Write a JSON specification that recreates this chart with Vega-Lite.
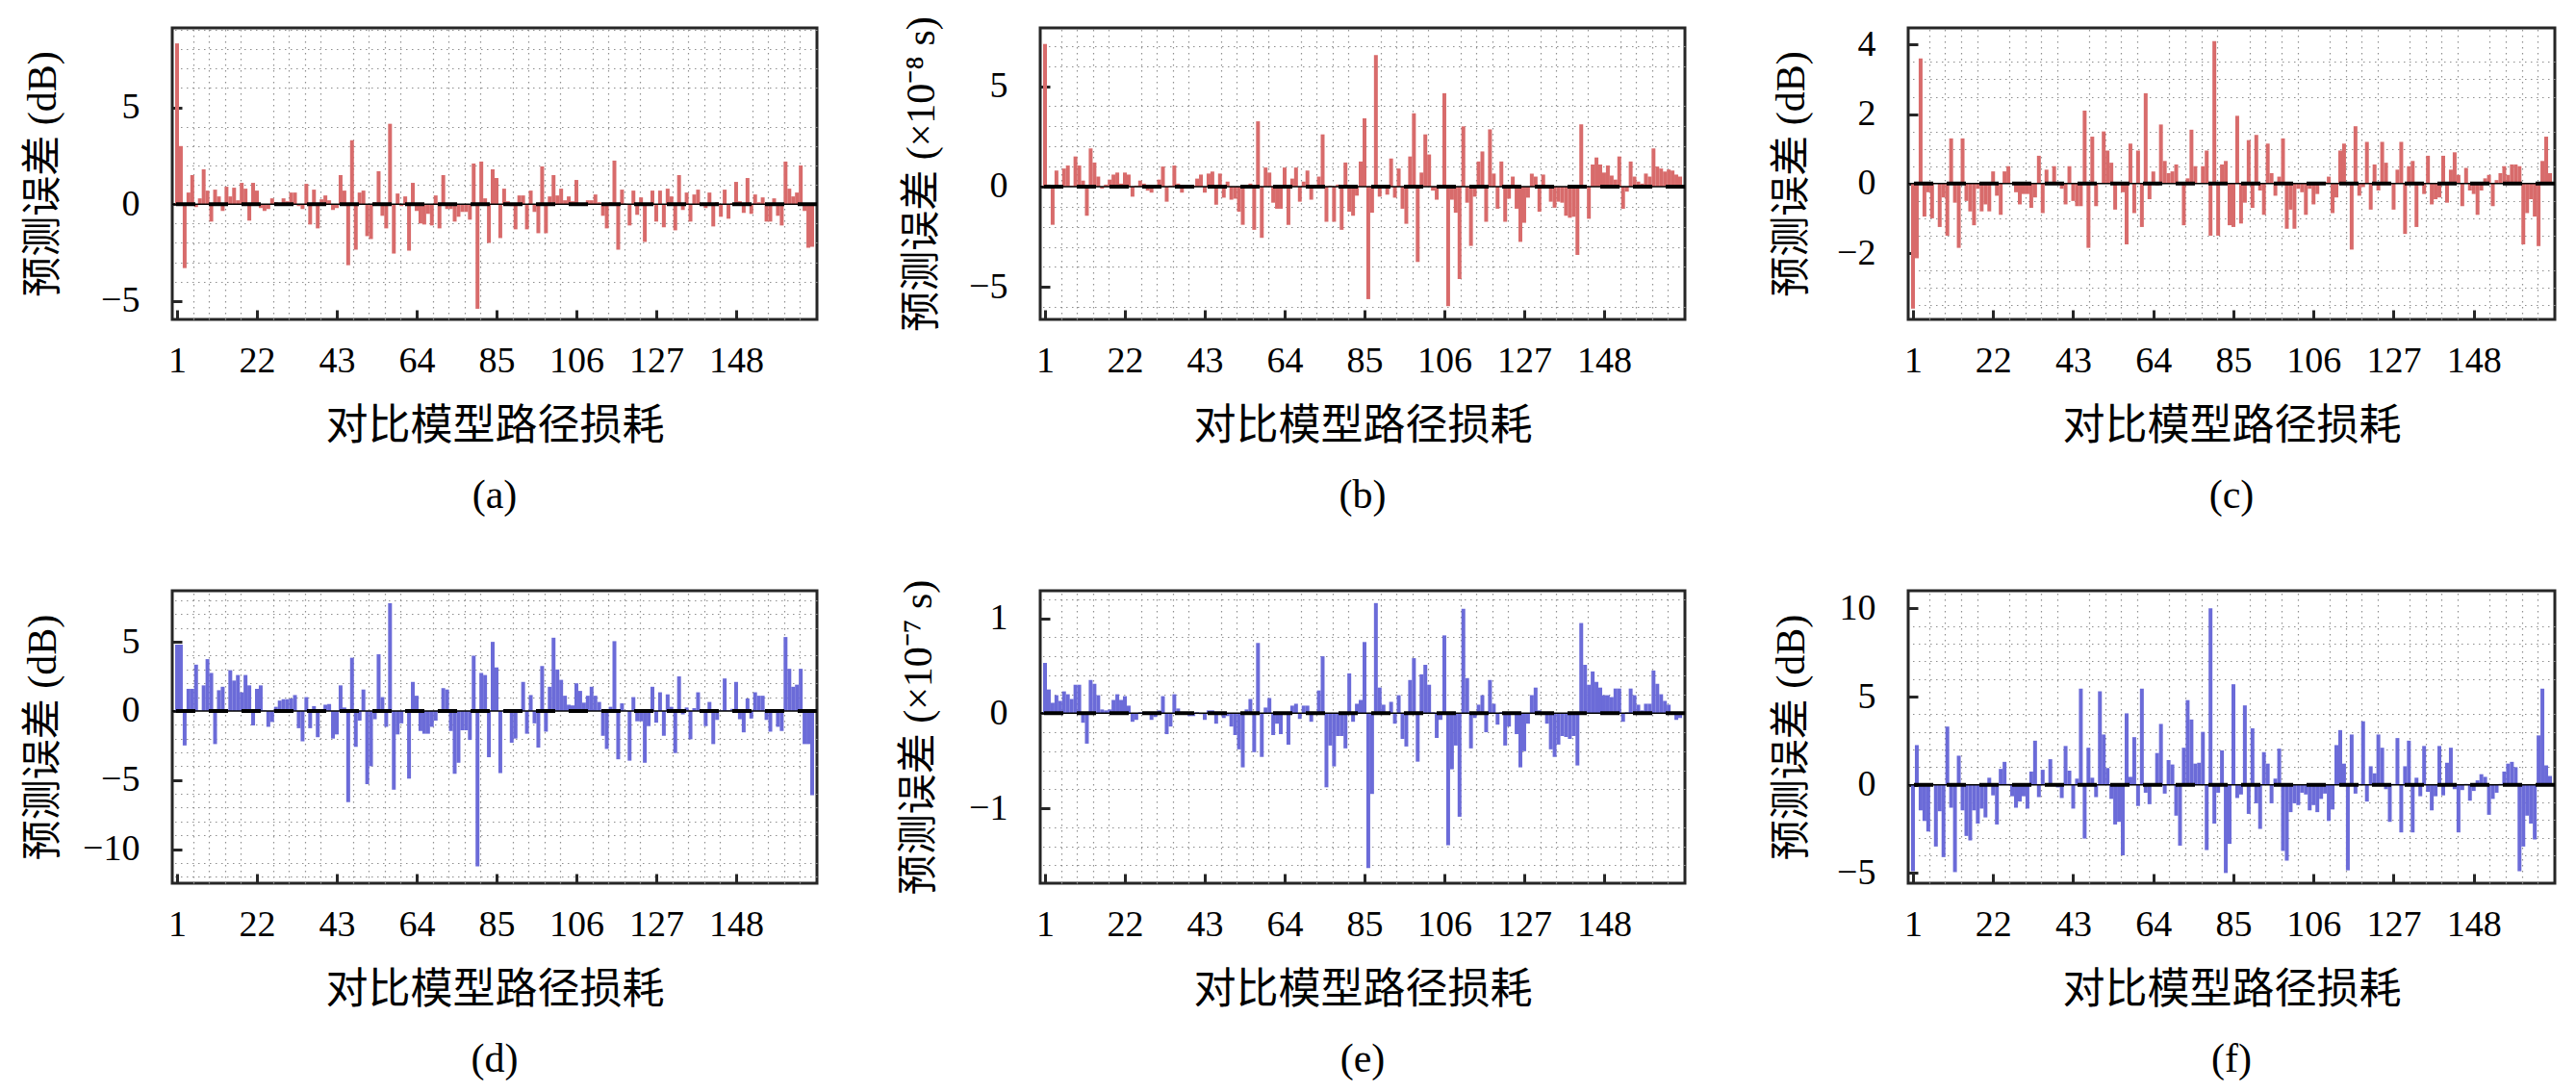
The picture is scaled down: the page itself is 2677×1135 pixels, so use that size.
{
  "$schema": "https://vega.github.io/schema/vega-lite/v6.json",
  "background": "white",
  "padding": {"left": 21, "top": 15, "right": 5, "bottom": 5},
  "config": {
    "font": "Liberation Serif, Noto Sans CJK SC",
    "view": {"stroke": "#262626", "strokeWidth": 3},
    "axis": {
      "domain": false, "grid": true,
      "labelFont": "Liberation Serif, Noto Sans CJK SC", "labelFontSize": 38, "labelColor": "black",
      "titleFont": "Liberation Serif, Noto Sans CJK SC", "titleFontSize": 42, "titleFontWeight": "normal", "titleColor": "black",
      "tickColor": "#262626", "tickWidth": 3, "tickSize": -10,
      "labelOverlap": false, "labelFlush": false, "labelBound": false,
      "gridColor": "#d6d6d6", "gridWidth": 2.5
    },
    "axisX": {"labelPadding": 34, "titlePadding": 27, "titleFontSize": 44},
    "axisY": {"labelPadding": 44, "titleBaseline": "middle", "format": "d"},
    "title": {"font": "Liberation Serif, Noto Sans CJK SC", "fontSize": 42, "fontWeight": "normal", "color": "black", "orient": "bottom", "anchor": "middle", "offset": 30}
  },
  "datasets": {
    "a": [{"i":1,"v":8.3},{"i":2,"v":3.0},{"i":3,"v":-3.3},{"i":4,"v":0.6},{"i":5,"v":1.5},{"i":6,"v":-0.15},{"i":7,"v":0.3},{"i":8,"v":1.8},{"i":9,"v":0.7},{"i":10,"v":-0.9},{"i":11,"v":0.75},{"i":12,"v":0.4},{"i":13,"v":-0.35},{"i":14,"v":0.9},{"i":15,"v":0.4},{"i":16,"v":0.85},{"i":17,"v":0.2},{"i":18,"v":1.1},{"i":19,"v":0.8},{"i":20,"v":-0.85},{"i":21,"v":1.1},{"i":22,"v":0.7},{"i":23,"v":-0.2},{"i":24,"v":-0.35},{"i":25,"v":-0.25},{"i":26,"v":0.3},{"i":27,"v":0.1},{"i":28,"v":0.05},{"i":29,"v":0.3},{"i":30,"v":0.15},{"i":31,"v":0.6},{"i":32,"v":0.6},{"i":33,"v":-0.1},{"i":34,"v":-0.25},{"i":35,"v":1.05},{"i":36,"v":-1.05},{"i":37,"v":0.75},{"i":38,"v":-1.25},{"i":39,"v":0.25},{"i":40,"v":0.45},{"i":41,"v":0.2},{"i":42,"v":-0.3},{"i":43,"v":-0.2},{"i":44,"v":1.5},{"i":45,"v":0.7},{"i":46,"v":-3.15},{"i":47,"v":3.3},{"i":48,"v":-2.35},{"i":49,"v":0.6},{"i":50,"v":0.7},{"i":51,"v":-1.65},{"i":52,"v":-1.8},{"i":53,"v":0.1},{"i":54,"v":1.7},{"i":55,"v":-0.6},{"i":56,"v":-1.25},{"i":57,"v":4.15},{"i":58,"v":-2.55},{"i":59,"v":0.55},{"i":60,"v":-0.1},{"i":61,"v":0.4},{"i":62,"v":-2.4},{"i":63,"v":1.1},{"i":64,"v":-0.35},{"i":65,"v":-1.0},{"i":66,"v":-1.05},{"i":67,"v":-0.5},{"i":68,"v":-1.1},{"i":69,"v":0.45},{"i":70,"v":-1.25},{"i":71,"v":1.5},{"i":72,"v":-0.25},{"i":73,"v":-0.25},{"i":74,"v":-0.9},{"i":75,"v":-0.65},{"i":76,"v":-0.4},{"i":77,"v":-0.4},{"i":78,"v":-0.8},{"i":79,"v":2.1},{"i":80,"v":-5.4},{"i":81,"v":2.2},{"i":82,"v":0.3},{"i":83,"v":-2.0},{"i":84,"v":1.8},{"i":85,"v":1.35},{"i":86,"v":-1.75},{"i":87,"v":0.8},{"i":88,"v":0.15},{"i":89,"v":-0.1},{"i":90,"v":-1.3},{"i":91,"v":0.45},{"i":92,"v":0.45},{"i":93,"v":-1.3},{"i":94,"v":0.7},{"i":95,"v":-0.4},{"i":96,"v":-1.5},{"i":97,"v":1.95},{"i":98,"v":-1.5},{"i":99,"v":0.4},{"i":100,"v":1.5},{"i":101,"v":0.45},{"i":102,"v":0.8},{"i":103,"v":0.2},{"i":104,"v":0.4},{"i":105,"v":0.15},{"i":106,"v":1.25},{"i":107,"v":0.02},{"i":108,"v":0.02},{"i":109,"v":0.2},{"i":110,"v":0.2},{"i":111,"v":0.5},{"i":112,"v":0.1},{"i":113,"v":-0.6},{"i":114,"v":-1.25},{"i":115,"v":0.1},{"i":116,"v":2.25},{"i":117,"v":-2.35},{"i":118,"v":0.75},{"i":119,"v":0.02},{"i":120,"v":-1.1},{"i":121,"v":0.7},{"i":122,"v":-0.55},{"i":123,"v":0.35},{"i":124,"v":-1.95},{"i":125,"v":0.02},{"i":126,"v":0.7},{"i":127,"v":-0.9},{"i":128,"v":0.7},{"i":129,"v":-1.2},{"i":130,"v":0.8},{"i":131,"v":0.4},{"i":132,"v":-1.35},{"i":133,"v":1.5},{"i":134,"v":-0.3},{"i":135,"v":0.6},{"i":136,"v":-0.9},{"i":137,"v":0.5},{"i":138,"v":0.75},{"i":139,"v":-0.05},{"i":140,"v":-0.2},{"i":141,"v":0.6},{"i":142,"v":-1.15},{"i":143,"v":0.1},{"i":144,"v":-0.65},{"i":145,"v":0.75},{"i":146,"v":-0.75},{"i":147,"v":0.05},{"i":148,"v":1.15},{"i":149,"v":0.15},{"i":150,"v":-0.45},{"i":151,"v":1.35},{"i":152,"v":-0.5},{"i":153,"v":0.5},{"i":154,"v":0.1},{"i":155,"v":0.35},{"i":156,"v":-0.9},{"i":157,"v":-0.9},{"i":158,"v":0.3},{"i":159,"v":-0.6},{"i":160,"v":-1.1},{"i":161,"v":2.2},{"i":162,"v":0.8},{"i":163,"v":0.4},{"i":164,"v":0.6},{"i":165,"v":2.0},{"i":166,"v":-0.35},{"i":167,"v":-2.25},{"i":168,"v":-2.2}],
    "b": [{"i":1,"v":7.1},{"i":2,"v":0.1},{"i":3,"v":-1.9},{"i":4,"v":0.8},{"i":5,"v":0.05},{"i":6,"v":0.9},{"i":7,"v":1.05},{"i":8,"v":0.05},{"i":9,"v":1.5},{"i":10,"v":1.05},{"i":11,"v":0.3},{"i":12,"v":-1.45},{"i":13,"v":1.9},{"i":14,"v":1.2},{"i":15,"v":0.5},{"i":16,"v":-0.1},{"i":17,"v":0.1},{"i":18,"v":0.35},{"i":19,"v":0.6},{"i":20,"v":0.7},{"i":21,"v":0.15},{"i":22,"v":0.7},{"i":23,"v":0.6},{"i":24,"v":-0.5},{"i":25,"v":0.05},{"i":26,"v":0.3},{"i":27,"v":0.15},{"i":28,"v":-0.2},{"i":29,"v":-0.3},{"i":30,"v":0.05},{"i":31,"v":0.35},{"i":32,"v":1.0},{"i":33,"v":-0.75},{"i":34,"v":0.05},{"i":35,"v":1.05},{"i":36,"v":0.15},{"i":37,"v":-0.3},{"i":38,"v":0.05},{"i":39,"v":-0.05},{"i":40,"v":0.05},{"i":41,"v":0.4},{"i":42,"v":0.6},{"i":43,"v":-0.3},{"i":44,"v":0.65},{"i":45,"v":0.75},{"i":46,"v":-0.9},{"i":47,"v":0.65},{"i":48,"v":-0.55},{"i":49,"v":0.25},{"i":50,"v":-0.65},{"i":51,"v":-0.6},{"i":52,"v":-1.25},{"i":53,"v":-1.9},{"i":54,"v":0.05},{"i":55,"v":0.15},{"i":56,"v":-2.15},{"i":57,"v":3.25},{"i":58,"v":-2.55},{"i":59,"v":0.95},{"i":60,"v":0.7},{"i":61,"v":-0.8},{"i":62,"v":-1.1},{"i":63,"v":-1.1},{"i":64,"v":0.95},{"i":65,"v":-1.9},{"i":66,"v":0.4},{"i":67,"v":0.95},{"i":68,"v":-0.75},{"i":69,"v":0.25},{"i":70,"v":0.8},{"i":71,"v":-0.65},{"i":72,"v":0.05},{"i":73,"v":0.5},{"i":74,"v":2.6},{"i":75,"v":-1.75},{"i":76,"v":0.05},{"i":77,"v":-1.75},{"i":78,"v":0.1},{"i":79,"v":-2.15},{"i":80,"v":1.2},{"i":81,"v":-1.25},{"i":82,"v":-1.45},{"i":83,"v":-0.45},{"i":84,"v":1.25},{"i":85,"v":3.4},{"i":86,"v":-5.6},{"i":87,"v":-1.3},{"i":88,"v":6.55},{"i":89,"v":-0.5},{"i":90,"v":0.05},{"i":91,"v":-0.4},{"i":92,"v":1.4},{"i":93,"v":-0.55},{"i":94,"v":0.9},{"i":95,"v":-1.1},{"i":96,"v":-1.85},{"i":97,"v":1.5},{"i":98,"v":3.65},{"i":99,"v":-3.75},{"i":100,"v":0.7},{"i":101,"v":2.6},{"i":102,"v":1.6},{"i":103,"v":-0.2},{"i":104,"v":-0.65},{"i":105,"v":0.05},{"i":106,"v":4.65},{"i":107,"v":-5.95},{"i":108,"v":-0.65},{"i":109,"v":-1.3},{"i":110,"v":-4.6},{"i":111,"v":3.0},{"i":112,"v":-0.8},{"i":113,"v":-2.95},{"i":114,"v":-0.5},{"i":115,"v":1.25},{"i":116,"v":1.75},{"i":117,"v":-1.75},{"i":118,"v":2.85},{"i":119,"v":0.65},{"i":120,"v":-1.1},{"i":121,"v":1.25},{"i":122,"v":-1.75},{"i":123,"v":-0.6},{"i":124,"v":0.5},{"i":125,"v":-1.1},{"i":126,"v":-2.75},{"i":127,"v":-1.8},{"i":128,"v":-0.55},{"i":129,"v":0.65},{"i":130,"v":0.5},{"i":131,"v":-1.25},{"i":132,"v":0.6},{"i":133,"v":0.05},{"i":134,"v":-0.75},{"i":135,"v":-1.05},{"i":136,"v":-0.75},{"i":137,"v":-0.8},{"i":138,"v":-1.45},{"i":139,"v":-1.55},{"i":140,"v":-1.5},{"i":141,"v":-3.4},{"i":142,"v":3.1},{"i":143,"v":0.05},{"i":144,"v":-1.6},{"i":145,"v":1.1},{"i":146,"v":1.45},{"i":147,"v":1.1},{"i":148,"v":0.7},{"i":149,"v":1.05},{"i":150,"v":0.55},{"i":151,"v":0.35},{"i":152,"v":1.5},{"i":153,"v":-1.1},{"i":154,"v":-0.25},{"i":155,"v":1.25},{"i":156,"v":0.5},{"i":157,"v":0.25},{"i":158,"v":0.15},{"i":159,"v":0.65},{"i":160,"v":0.5},{"i":161,"v":1.9},{"i":162,"v":1.0},{"i":163,"v":0.9},{"i":164,"v":0.75},{"i":165,"v":0.85},{"i":166,"v":0.8},{"i":167,"v":0.6},{"i":168,"v":0.5}],
    "c": [{"i":1,"v":-3.6},{"i":2,"v":-2.15},{"i":3,"v":3.6},{"i":4,"v":-0.95},{"i":5,"v":-0.25},{"i":6,"v":-1.0},{"i":7,"v":0.02},{"i":8,"v":-1.25},{"i":9,"v":-0.4},{"i":10,"v":-1.5},{"i":11,"v":1.3},{"i":12,"v":-0.55},{"i":13,"v":-1.85},{"i":14,"v":1.3},{"i":15,"v":-0.5},{"i":16,"v":-0.8},{"i":17,"v":-1.2},{"i":18,"v":-0.15},{"i":19,"v":-0.8},{"i":20,"v":-0.6},{"i":21,"v":-0.8},{"i":22,"v":0.35},{"i":23,"v":-0.35},{"i":24,"v":-0.9},{"i":25,"v":0.35},{"i":26,"v":0.5},{"i":27,"v":0.02},{"i":28,"v":-0.25},{"i":29,"v":-0.6},{"i":30,"v":-0.3},{"i":31,"v":-0.3},{"i":32,"v":-0.7},{"i":33,"v":-0.4},{"i":34,"v":0.8},{"i":35,"v":-0.85},{"i":36,"v":0.4},{"i":37,"v":0.02},{"i":38,"v":0.5},{"i":39,"v":0.02},{"i":40,"v":-0.15},{"i":41,"v":-0.6},{"i":42,"v":0.5},{"i":43,"v":-0.5},{"i":44,"v":-0.65},{"i":45,"v":-0.65},{"i":46,"v":2.1},{"i":47,"v":-1.85},{"i":48,"v":1.35},{"i":49,"v":-0.65},{"i":50,"v":0.02},{"i":51,"v":1.5},{"i":52,"v":0.95},{"i":53,"v":0.6},{"i":54,"v":-0.75},{"i":55,"v":0.02},{"i":56,"v":-0.25},{"i":57,"v":-1.75},{"i":58,"v":1.15},{"i":59,"v":-0.85},{"i":60,"v":0.95},{"i":61,"v":-1.25},{"i":62,"v":2.6},{"i":63,"v":-0.45},{"i":64,"v":0.35},{"i":65,"v":-0.05},{"i":66,"v":1.7},{"i":67,"v":0.65},{"i":68,"v":0.3},{"i":69,"v":0.35},{"i":70,"v":0.55},{"i":71,"v":0.02},{"i":72,"v":-1.2},{"i":73,"v":0.15},{"i":74,"v":1.55},{"i":75,"v":0.5},{"i":76,"v":0.02},{"i":77,"v":0.5},{"i":78,"v":0.95},{"i":79,"v":-1.5},{"i":80,"v":4.1},{"i":81,"v":-1.5},{"i":82,"v":0.55},{"i":83,"v":0.65},{"i":84,"v":-1.2},{"i":85,"v":-1.25},{"i":86,"v":1.95},{"i":87,"v":-1.15},{"i":88,"v":-0.55},{"i":89,"v":1.25},{"i":90,"v":-0.7},{"i":91,"v":1.4},{"i":92,"v":-0.2},{"i":93,"v":-0.9},{"i":94,"v":1.15},{"i":95,"v":0.3},{"i":96,"v":-0.35},{"i":97,"v":0.2},{"i":98,"v":1.3},{"i":99,"v":-1.3},{"i":100,"v":-0.75},{"i":101,"v":-1.3},{"i":102,"v":-0.15},{"i":103,"v":-0.25},{"i":104,"v":-0.9},{"i":105,"v":-0.15},{"i":106,"v":-0.6},{"i":107,"v":-0.3},{"i":108,"v":0.02},{"i":109,"v":0.05},{"i":110,"v":0.2},{"i":111,"v":-0.85},{"i":112,"v":-0.4},{"i":113,"v":0.95},{"i":114,"v":1.15},{"i":115,"v":0.02},{"i":116,"v":-1.9},{"i":117,"v":1.65},{"i":118,"v":-0.35},{"i":119,"v":-0.1},{"i":120,"v":1.2},{"i":121,"v":-0.75},{"i":122,"v":0.55},{"i":123,"v":-0.2},{"i":124,"v":1.2},{"i":125,"v":0.6},{"i":126,"v":0.02},{"i":127,"v":-0.75},{"i":128,"v":0.4},{"i":129,"v":1.2},{"i":130,"v":-1.45},{"i":131,"v":0.5},{"i":132,"v":0.65},{"i":133,"v":-1.25},{"i":134,"v":0.05},{"i":135,"v":-0.3},{"i":136,"v":0.8},{"i":137,"v":-0.6},{"i":138,"v":-0.45},{"i":139,"v":-0.4},{"i":140,"v":0.8},{"i":141,"v":-0.55},{"i":142,"v":0.4},{"i":143,"v":0.9},{"i":144,"v":0.25},{"i":145,"v":-0.65},{"i":146,"v":0.45},{"i":147,"v":-0.2},{"i":148,"v":-0.3},{"i":149,"v":-0.9},{"i":150,"v":-0.2},{"i":151,"v":0.15},{"i":152,"v":0.25},{"i":153,"v":-0.65},{"i":154,"v":0.1},{"i":155,"v":0.3},{"i":156,"v":0.5},{"i":157,"v":0.25},{"i":158,"v":0.55},{"i":159,"v":0.55},{"i":160,"v":0.5},{"i":161,"v":-1.75},{"i":162,"v":-0.85},{"i":163,"v":-0.45},{"i":164,"v":-0.95},{"i":165,"v":-1.8},{"i":166,"v":0.65},{"i":167,"v":1.35},{"i":168,"v":0.3}],
    "d": [{"i":1,"v":4.8},{"i":2,"v":4.8},{"i":3,"v":-2.5},{"i":4,"v":1.6},{"i":5,"v":1.6},{"i":6,"v":3.35},{"i":7,"v":0.05},{"i":8,"v":1.85},{"i":9,"v":3.75},{"i":10,"v":2.75},{"i":11,"v":-2.4},{"i":12,"v":1.5},{"i":13,"v":1.75},{"i":14,"v":0.05},{"i":15,"v":2.95},{"i":16,"v":2.2},{"i":17,"v":2.6},{"i":18,"v":1.35},{"i":19,"v":2.6},{"i":20,"v":1.85},{"i":21,"v":-1.05},{"i":22,"v":1.6},{"i":23,"v":1.85},{"i":24,"v":0.05},{"i":25,"v":-1.15},{"i":26,"v":-0.8},{"i":27,"v":0.3},{"i":28,"v":0.75},{"i":29,"v":0.85},{"i":30,"v":0.85},{"i":31,"v":0.9},{"i":32,"v":1.15},{"i":33,"v":-1.25},{"i":34,"v":-2.2},{"i":35,"v":1.0},{"i":36,"v":-1.25},{"i":37,"v":0.35},{"i":38,"v":-1.9},{"i":39,"v":0.1},{"i":40,"v":0.45},{"i":41,"v":0.5},{"i":42,"v":-2.0},{"i":43,"v":-1.7},{"i":44,"v":1.85},{"i":45,"v":0.25},{"i":46,"v":-6.6},{"i":47,"v":3.85},{"i":48,"v":-2.6},{"i":49,"v":-0.7},{"i":50,"v":1.55},{"i":51,"v":-5.3},{"i":52,"v":-4.0},{"i":53,"v":-0.6},{"i":54,"v":4.1},{"i":55,"v":1.0},{"i":56,"v":-1.15},{"i":57,"v":7.8},{"i":58,"v":-5.7},{"i":59,"v":-1.7},{"i":60,"v":-0.9},{"i":61,"v":0.05},{"i":62,"v":-4.9},{"i":63,"v":2.1},{"i":64,"v":1.1},{"i":65,"v":-1.45},{"i":66,"v":-1.65},{"i":67,"v":-1.65},{"i":68,"v":-1.15},{"i":69,"v":-0.7},{"i":70,"v":0.05},{"i":71,"v":1.65},{"i":72,"v":1.55},{"i":73,"v":-1.45},{"i":74,"v":-4.55},{"i":75,"v":-3.75},{"i":76,"v":-1.4},{"i":77,"v":-1.4},{"i":78,"v":-2.1},{"i":79,"v":4.0},{"i":80,"v":-11.25},{"i":81,"v":2.75},{"i":82,"v":2.6},{"i":83,"v":-3.35},{"i":84,"v":5.0},{"i":85,"v":3.15},{"i":86,"v":-4.5},{"i":87,"v":0.05},{"i":88,"v":0.05},{"i":89,"v":-2.3},{"i":90,"v":-2.0},{"i":91,"v":0.1},{"i":92,"v":2.1},{"i":93,"v":-1.65},{"i":94,"v":1.15},{"i":95,"v":-0.9},{"i":96,"v":-2.65},{"i":97,"v":3.25},{"i":98,"v":-1.5},{"i":99,"v":1.75},{"i":100,"v":5.3},{"i":101,"v":3.0},{"i":102,"v":2.25},{"i":103,"v":1.1},{"i":104,"v":0.45},{"i":105,"v":0.4},{"i":106,"v":2.0},{"i":107,"v":1.45},{"i":108,"v":0.6},{"i":109,"v":1.1},{"i":110,"v":1.75},{"i":111,"v":1.1},{"i":112,"v":0.65},{"i":113,"v":-1.8},{"i":114,"v":-2.75},{"i":115,"v":0.3},{"i":116,"v":5.05},{"i":117,"v":-3.5},{"i":118,"v":0.55},{"i":119,"v":0.05},{"i":120,"v":-3.6},{"i":121,"v":1.0},{"i":122,"v":-0.75},{"i":123,"v":-0.75},{"i":124,"v":-3.75},{"i":125,"v":-1.1},{"i":126,"v":1.75},{"i":127,"v":-0.85},{"i":128,"v":1.35},{"i":129,"v":-1.8},{"i":130,"v":1.2},{"i":131,"v":0.3},{"i":132,"v":-3.05},{"i":133,"v":2.5},{"i":134,"v":-0.25},{"i":135,"v":0.25},{"i":136,"v":-2.05},{"i":137,"v":0.2},{"i":138,"v":1.35},{"i":139,"v":0.05},{"i":140,"v":-1.1},{"i":141,"v":0.65},{"i":142,"v":-2.4},{"i":143,"v":-0.65},{"i":144,"v":0.05},{"i":145,"v":2.35},{"i":146,"v":0.05},{"i":147,"v":0.15},{"i":148,"v":2.1},{"i":149,"v":-0.6},{"i":150,"v":-1.55},{"i":151,"v":0.9},{"i":152,"v":-0.55},{"i":153,"v":1.35},{"i":154,"v":1.1},{"i":155,"v":1.1},{"i":156,"v":-0.65},{"i":157,"v":-1.5},{"i":158,"v":0.05},{"i":159,"v":-1.15},{"i":160,"v":-1.45},{"i":161,"v":5.35},{"i":162,"v":3.05},{"i":163,"v":1.75},{"i":164,"v":1.9},{"i":165,"v":3.05},{"i":166,"v":-2.4},{"i":167,"v":-2.4},{"i":168,"v":-6.1}],
    "e": [{"i":1,"v":0.53},{"i":2,"v":0.25},{"i":3,"v":0.11},{"i":4,"v":0.19},{"i":5,"v":0.13},{"i":6,"v":0.23},{"i":7,"v":0.2},{"i":8,"v":0.15},{"i":9,"v":0.3},{"i":10,"v":0.3},{"i":11,"v":-0.1},{"i":12,"v":-0.32},{"i":13,"v":0.35},{"i":14,"v":0.31},{"i":15,"v":0.19},{"i":16,"v":0.04},{"i":17,"v":0.03},{"i":18,"v":0.04},{"i":19,"v":0.14},{"i":20,"v":0.2},{"i":21,"v":0.14},{"i":22,"v":0.18},{"i":23,"v":0.08},{"i":24,"v":-0.09},{"i":25,"v":-0.07},{"i":26,"v":0.01},{"i":27,"v":0.01},{"i":28,"v":-0.01},{"i":29,"v":-0.07},{"i":30,"v":-0.04},{"i":31,"v":0.03},{"i":32,"v":0.18},{"i":33,"v":-0.22},{"i":34,"v":-0.14},{"i":35,"v":0.2},{"i":36,"v":0.05},{"i":37,"v":0.01},{"i":38,"v":-0.01},{"i":39,"v":-0.03},{"i":40,"v":-0.03},{"i":41,"v":0.01},{"i":42,"v":-0.01},{"i":43,"v":-0.07},{"i":44,"v":0.03},{"i":45,"v":0.03},{"i":46,"v":-0.11},{"i":47,"v":0.01},{"i":48,"v":-0.05},{"i":49,"v":-0.03},{"i":50,"v":-0.14},{"i":51,"v":-0.23},{"i":52,"v":-0.38},{"i":53,"v":-0.57},{"i":54,"v":0.04},{"i":55,"v":0.15},{"i":56,"v":-0.41},{"i":57,"v":0.74},{"i":58,"v":-0.46},{"i":59,"v":0.06},{"i":60,"v":0.16},{"i":61,"v":-0.23},{"i":62,"v":-0.11},{"i":63,"v":-0.22},{"i":64,"v":0.01},{"i":65,"v":-0.33},{"i":66,"v":0.08},{"i":67,"v":0.1},{"i":68,"v":-0.06},{"i":69,"v":0.08},{"i":70,"v":0.08},{"i":71,"v":-0.09},{"i":72,"v":0.01},{"i":73,"v":0.24},{"i":74,"v":0.6},{"i":75,"v":-0.78},{"i":76,"v":-0.34},{"i":77,"v":-0.56},{"i":78,"v":-0.24},{"i":79,"v":-0.24},{"i":80,"v":-0.37},{"i":81,"v":0.42},{"i":82,"v":-0.09},{"i":83,"v":0.1},{"i":84,"v":0.14},{"i":85,"v":0.75},{"i":86,"v":-1.63},{"i":87,"v":-0.85},{"i":88,"v":1.16},{"i":89,"v":0.27},{"i":90,"v":0.09},{"i":91,"v":0.01},{"i":92,"v":0.12},{"i":93,"v":-0.11},{"i":94,"v":0.19},{"i":95,"v":-0.27},{"i":96,"v":-0.35},{"i":97,"v":0.35},{"i":98,"v":0.58},{"i":99,"v":-0.51},{"i":100,"v":0.41},{"i":101,"v":0.51},{"i":102,"v":0.3},{"i":103,"v":0.01},{"i":104,"v":-0.26},{"i":105,"v":-0.07},{"i":106,"v":0.82},{"i":107,"v":-1.39},{"i":108,"v":-0.59},{"i":109,"v":-0.34},{"i":110,"v":-1.09},{"i":111,"v":1.1},{"i":112,"v":0.37},{"i":113,"v":-0.37},{"i":114,"v":-0.05},{"i":115,"v":0.09},{"i":116,"v":0.19},{"i":117,"v":-0.2},{"i":118,"v":0.35},{"i":119,"v":0.1},{"i":120,"v":-0.12},{"i":121,"v":0.01},{"i":122,"v":-0.34},{"i":123,"v":-0.14},{"i":124,"v":0.01},{"i":125,"v":-0.22},{"i":126,"v":-0.57},{"i":127,"v":-0.4},{"i":128,"v":-0.11},{"i":129,"v":0.19},{"i":130,"v":0.27},{"i":131,"v":0.03},{"i":132,"v":0.01},{"i":133,"v":-0.11},{"i":134,"v":-0.38},{"i":135,"v":-0.46},{"i":136,"v":-0.33},{"i":137,"v":-0.24},{"i":138,"v":-0.25},{"i":139,"v":-0.27},{"i":140,"v":-0.24},{"i":141,"v":-0.55},{"i":142,"v":0.95},{"i":143,"v":0.51},{"i":144,"v":0.3},{"i":145,"v":0.44},{"i":146,"v":0.33},{"i":147,"v":0.27},{"i":148,"v":0.19},{"i":149,"v":0.19},{"i":150,"v":0.17},{"i":151,"v":0.26},{"i":152,"v":0.26},{"i":153,"v":-0.09},{"i":154,"v":0.01},{"i":155,"v":0.26},{"i":156,"v":0.19},{"i":157,"v":0.09},{"i":158,"v":0.03},{"i":159,"v":0.1},{"i":160,"v":0.1},{"i":161,"v":0.45},{"i":162,"v":0.31},{"i":163,"v":0.2},{"i":164,"v":0.13},{"i":165,"v":0.09},{"i":166,"v":0.01},{"i":167,"v":-0.07},{"i":168,"v":-0.05}],
    "f": [{"i":1,"v":-4.9},{"i":2,"v":2.25},{"i":3,"v":-1.45},{"i":4,"v":-2.05},{"i":5,"v":-2.65},{"i":6,"v":0.05},{"i":7,"v":-3.5},{"i":8,"v":-1.5},{"i":9,"v":-4.1},{"i":10,"v":3.3},{"i":11,"v":-1.3},{"i":12,"v":-4.95},{"i":13,"v":1.65},{"i":14,"v":-1.45},{"i":15,"v":-2.9},{"i":16,"v":-3.15},{"i":17,"v":-1.45},{"i":18,"v":-2.2},{"i":19,"v":-1.35},{"i":20,"v":-1.85},{"i":21,"v":0.4},{"i":22,"v":-0.6},{"i":23,"v":-2.25},{"i":24,"v":0.9},{"i":25,"v":1.3},{"i":26,"v":0.05},{"i":27,"v":-0.65},{"i":28,"v":-1.3},{"i":29,"v":-0.95},{"i":30,"v":-0.65},{"i":31,"v":-1.35},{"i":32,"v":0.75},{"i":33,"v":2.5},{"i":34,"v":-0.7},{"i":35,"v":0.85},{"i":36,"v":0.05},{"i":37,"v":1.45},{"i":38,"v":0.05},{"i":39,"v":-0.15},{"i":40,"v":-0.75},{"i":41,"v":2.2},{"i":42,"v":0.8},{"i":43,"v":-1.35},{"i":44,"v":0.35},{"i":45,"v":5.45},{"i":46,"v":-3.05},{"i":47,"v":2.1},{"i":48,"v":0.4},{"i":49,"v":-0.7},{"i":50,"v":5.3},{"i":51,"v":2.85},{"i":52,"v":0.95},{"i":53,"v":-0.8},{"i":54,"v":-2.25},{"i":55,"v":-2.1},{"i":56,"v":-4.0},{"i":57,"v":4.05},{"i":58,"v":0.45},{"i":59,"v":2.7},{"i":60,"v":-1.2},{"i":61,"v":5.45},{"i":62,"v":-0.45},{"i":63,"v":-1.1},{"i":64,"v":0.05},{"i":65,"v":1.8},{"i":66,"v":3.45},{"i":67,"v":-0.5},{"i":68,"v":1.4},{"i":69,"v":1.15},{"i":70,"v":-1.75},{"i":71,"v":-3.45},{"i":72,"v":2.1},{"i":73,"v":4.8},{"i":74,"v":3.7},{"i":75,"v":1.2},{"i":76,"v":1.25},{"i":77,"v":3.0},{"i":78,"v":-3.7},{"i":79,"v":10.0},{"i":80,"v":-2.2},{"i":81,"v":-0.45},{"i":82,"v":1.95},{"i":83,"v":-5.0},{"i":84,"v":-3.35},{"i":85,"v":5.7},{"i":86,"v":-0.75},{"i":87,"v":-0.55},{"i":88,"v":4.5},{"i":89,"v":-1.65},{"i":90,"v":3.2},{"i":91,"v":-1.05},{"i":92,"v":-2.5},{"i":93,"v":1.85},{"i":94,"v":1.2},{"i":95,"v":-1.05},{"i":96,"v":0.35},{"i":97,"v":2.05},{"i":98,"v":-3.75},{"i":99,"v":-4.3},{"i":100,"v":-1.55},{"i":101,"v":-1.05},{"i":102,"v":-1.15},{"i":103,"v":-0.45},{"i":104,"v":-0.55},{"i":105,"v":-1.45},{"i":106,"v":-1.15},{"i":107,"v":-1.55},{"i":108,"v":-0.8},{"i":109,"v":-0.5},{"i":110,"v":-2.05},{"i":111,"v":-1.4},{"i":112,"v":2.25},{"i":113,"v":3.1},{"i":114,"v":1.2},{"i":115,"v":-4.85},{"i":116,"v":2.85},{"i":117,"v":-0.5},{"i":118,"v":0.05},{"i":119,"v":3.6},{"i":120,"v":-0.95},{"i":121,"v":1.05},{"i":122,"v":0.65},{"i":123,"v":2.85},{"i":124,"v":2.1},{"i":125,"v":-0.25},{"i":126,"v":-2.1},{"i":127,"v":0.05},{"i":128,"v":2.65},{"i":129,"v":-2.7},{"i":130,"v":1.05},{"i":131,"v":2.5},{"i":132,"v":-2.7},{"i":133,"v":0.4},{"i":134,"v":-0.65},{"i":135,"v":2.2},{"i":136,"v":-0.4},{"i":137,"v":-1.45},{"i":138,"v":-0.65},{"i":139,"v":2.2},{"i":140,"v":-0.6},{"i":141,"v":1.25},{"i":142,"v":2.1},{"i":143,"v":-0.25},{"i":144,"v":-2.7},{"i":145,"v":-0.3},{"i":146,"v":0.05},{"i":147,"v":-0.9},{"i":148,"v":-0.35},{"i":149,"v":0.25},{"i":150,"v":0.6},{"i":151,"v":0.45},{"i":152,"v":-1.7},{"i":153,"v":-0.8},{"i":154,"v":-0.45},{"i":155,"v":0.05},{"i":156,"v":0.75},{"i":157,"v":1.2},{"i":158,"v":1.3},{"i":159,"v":1.0},{"i":160,"v":-4.9},{"i":161,"v":-3.5},{"i":162,"v":-1.75},{"i":163,"v":-2.2},{"i":164,"v":-3.1},{"i":165,"v":2.8},{"i":166,"v":5.45},{"i":167,"v":1.1},{"i":168,"v":0.5}]
  },
  "columns": 3,
  "spacing": {"row": 282, "column": 232},
  "bounds": "flush",
  "concat": [
    {
      "width": 670, "height": 303, "title": "(a)",
      "resolve": {"axis": {"x": "independent", "y": "independent"}},
      "layer": [
        {"data": {"name": "a"}, "mark": {"type": "bar", "opacity": 0, "size": 4, "clip": true},
         "encoding": {
           "x": {"field": "i", "type": "quantitative", "scale": {"domain": [1, 168], "nice": false, "zero": false},
             "axis": {"orient": "top", "title": null, "labels": false, "ticks": false, "gridDash": [1.5, 4.5], "gridColor": "#8f8f8f", "gridWidth": 1.2,
               "values": [5.2,9.4,13.6,17.8,26.2,30.4,34.6,38.8,47.2,51.4,55.6,59.8,68.2,72.4,76.6,80.8,89.2,93.4,97.6,101.8,110.2,114.4,118.6,122.8,131.2,135.4,139.6,143.8,152.2,156.4,160.6,164.8]}},
           "y": {"field": "v", "type": "quantitative", "scale": {"domain": [-5.95, 9.1], "nice": false, "zero": false},
             "axis": {"orient": "right", "title": null, "labels": false, "ticks": false, "gridDash": [1.5, 4.5], "gridColor": "#8f8f8f", "gridWidth": 1.2,
               "values": [-4,-3,-2,-1,1,2,3,4,6,7,8,9]}}
         }},
        {"data": {"name": "a"}, "mark": {"type": "bar", "color": "#d86b6b", "size": 4, "clip": true},
         "encoding": {
           "x": {"field": "i", "type": "quantitative", "axis": {"orient": "bottom", "title": "对比模型路径损耗", "values": [1,22,43,64,85,106,127,148]}},
           "y": {"field": "v", "type": "quantitative", "axis": {"orient": "left", "title": "预测误差 (dB)", "titleX": -135, "values": [-5,0,5]}},
           "y2": {"datum": 0}
         }},
        {"data": {"values": [{"v": 0}]}, "mark": {"type": "rule", "color": "black", "strokeWidth": 1.5}, "encoding": {"y": {"field": "v", "type": "quantitative", "axis": null}}},
        {"data": {"values": [{"v": 0}]}, "mark": {"type": "rule", "color": "black", "strokeWidth": 4, "strokeDash": [20, 14]}, "encoding": {"y": {"field": "v", "type": "quantitative", "axis": null}}}
      ]
    },
    {
      "width": 670, "height": 303, "title": "(b)",
      "resolve": {"axis": {"x": "independent", "y": "independent"}},
      "layer": [
        {"data": {"name": "b"}, "mark": {"type": "bar", "opacity": 0, "size": 4, "clip": true},
         "encoding": {
           "x": {"field": "i", "type": "quantitative", "scale": {"domain": [1, 168], "nice": false, "zero": false},
             "axis": {"orient": "top", "title": null, "labels": false, "ticks": false, "gridDash": [1.5, 4.5], "gridColor": "#8f8f8f", "gridWidth": 1.2,
               "values": [5.2,9.4,13.6,17.8,26.2,30.4,34.6,38.8,47.2,51.4,55.6,59.8,68.2,72.4,76.6,80.8,89.2,93.4,97.6,101.8,110.2,114.4,118.6,122.8,131.2,135.4,139.6,143.8,152.2,156.4,160.6,164.8]}},
           "y": {"field": "v", "type": "quantitative", "scale": {"domain": [-6.61, 7.9], "nice": false, "zero": false},
             "axis": {"orient": "right", "title": null, "labels": false, "ticks": false, "gridDash": [1.5, 4.5], "gridColor": "#8f8f8f", "gridWidth": 1.2,
               "values": [-6,-4,-3,-2,-1,1,2,3,4,6,7]}}
         }},
        {"data": {"name": "b"}, "mark": {"type": "bar", "color": "#d86b6b", "size": 4, "clip": true},
         "encoding": {
           "x": {"field": "i", "type": "quantitative", "axis": {"orient": "bottom", "title": "对比模型路径损耗", "values": [1,22,43,64,85,106,127,148]}},
           "y": {"field": "v", "type": "quantitative", "axis": {"orient": "left", "title": "预测误差 (×10⁻⁸ s)", "titleX": -124, "values": [-5,0,5]}},
           "y2": {"datum": 0}
         }},
        {"data": {"values": [{"v": 0}]}, "mark": {"type": "rule", "color": "black", "strokeWidth": 1.5}, "encoding": {"y": {"field": "v", "type": "quantitative", "axis": null}}},
        {"data": {"values": [{"v": 0}]}, "mark": {"type": "rule", "color": "black", "strokeWidth": 4, "strokeDash": [20, 14]}, "encoding": {"y": {"field": "v", "type": "quantitative", "axis": null}}}
      ]
    },
    {
      "width": 672, "height": 303, "title": "(c)",
      "resolve": {"axis": {"x": "independent", "y": "independent"}},
      "layer": [
        {"data": {"name": "c"}, "mark": {"type": "bar", "opacity": 0, "size": 4, "clip": true},
         "encoding": {
           "x": {"field": "i", "type": "quantitative", "scale": {"domain": [1, 168], "nice": false, "zero": false},
             "axis": {"orient": "top", "title": null, "labels": false, "ticks": false, "gridDash": [1.5, 4.5], "gridColor": "#8f8f8f", "gridWidth": 1.2,
               "values": [5.2,9.4,13.6,17.8,26.2,30.4,34.6,38.8,47.2,51.4,55.6,59.8,68.2,72.4,76.6,80.8,89.2,93.4,97.6,101.8,110.2,114.4,118.6,122.8,131.2,135.4,139.6,143.8,152.2,156.4,160.6,164.8]}},
           "y": {"field": "v", "type": "quantitative", "scale": {"domain": [-3.91, 4.48], "nice": false, "zero": false},
             "axis": {"orient": "right", "title": null, "labels": false, "ticks": false, "gridDash": [1.5, 4.5], "gridColor": "#8f8f8f", "gridWidth": 1.2,
               "values": [-3.5,-3,-2.5,-1.5,-1,-0.5,0.5,1,1.5,2.5,3,3.5]}}
         }},
        {"data": {"name": "c"}, "mark": {"type": "bar", "color": "#d86b6b", "size": 4, "clip": true},
         "encoding": {
           "x": {"field": "i", "type": "quantitative", "axis": {"orient": "bottom", "title": "对比模型路径损耗", "values": [1,22,43,64,85,106,127,148]}},
           "y": {"field": "v", "type": "quantitative", "axis": {"orient": "left", "title": "预测误差 (dB)", "titleX": -122, "values": [-2,0,2,4]}},
           "y2": {"datum": 0}
         }},
        {"data": {"values": [{"v": 0}]}, "mark": {"type": "rule", "color": "black", "strokeWidth": 1.5}, "encoding": {"y": {"field": "v", "type": "quantitative", "axis": null}}},
        {"data": {"values": [{"v": 0}]}, "mark": {"type": "rule", "color": "black", "strokeWidth": 4, "strokeDash": [20, 14]}, "encoding": {"y": {"field": "v", "type": "quantitative", "axis": null}}}
      ]
    },
    {
      "width": 670, "height": 304, "title": "(d)",
      "resolve": {"axis": {"x": "independent", "y": "independent"}},
      "layer": [
        {"data": {"name": "d"}, "mark": {"type": "bar", "opacity": 0, "size": 4, "clip": true},
         "encoding": {
           "x": {"field": "i", "type": "quantitative", "scale": {"domain": [1, 168], "nice": false, "zero": false},
             "axis": {"orient": "top", "title": null, "labels": false, "ticks": false, "gridDash": [1.5, 4.5], "gridColor": "#8f8f8f", "gridWidth": 1.2,
               "values": [5.2,9.4,13.6,17.8,26.2,30.4,34.6,38.8,47.2,51.4,55.6,59.8,68.2,72.4,76.6,80.8,89.2,93.4,97.6,101.8,110.2,114.4,118.6,122.8,131.2,135.4,139.6,143.8,152.2,156.4,160.6,164.8]}},
           "y": {"field": "v", "type": "quantitative", "scale": {"domain": [-12.47, 8.7], "nice": false, "zero": false},
             "axis": {"orient": "right", "title": null, "labels": false, "ticks": false, "gridDash": [1.5, 4.5], "gridColor": "#8f8f8f", "gridWidth": 1.2,
               "values": [-12,-11,-9,-8,-7,-6,-4,-3,-2,-1,1,2,3,4,6,7,8]}}
         }},
        {"data": {"name": "d"}, "mark": {"type": "bar", "color": "#6b6bd8", "size": 4, "clip": true},
         "encoding": {
           "x": {"field": "i", "type": "quantitative", "axis": {"orient": "bottom", "title": "对比模型路径损耗", "values": [1,22,43,64,85,106,127,148]}},
           "y": {"field": "v", "type": "quantitative", "axis": {"orient": "left", "title": "预测误差 (dB)", "titleX": -135, "values": [-10,-5,0,5]}},
           "y2": {"datum": 0}
         }},
        {"data": {"values": [{"v": 0}]}, "mark": {"type": "rule", "color": "black", "strokeWidth": 1.5}, "encoding": {"y": {"field": "v", "type": "quantitative", "axis": null}}},
        {"data": {"values": [{"v": 0}]}, "mark": {"type": "rule", "color": "black", "strokeWidth": 4, "strokeDash": [20, 14]}, "encoding": {"y": {"field": "v", "type": "quantitative", "axis": null}}}
      ]
    },
    {
      "width": 670, "height": 304, "title": "(e)",
      "resolve": {"axis": {"x": "independent", "y": "independent"}},
      "layer": [
        {"data": {"name": "e"}, "mark": {"type": "bar", "opacity": 0, "size": 4, "clip": true},
         "encoding": {
           "x": {"field": "i", "type": "quantitative", "scale": {"domain": [1, 168], "nice": false, "zero": false},
             "axis": {"orient": "top", "title": null, "labels": false, "ticks": false, "gridDash": [1.5, 4.5], "gridColor": "#8f8f8f", "gridWidth": 1.2,
               "values": [5.2,9.4,13.6,17.8,26.2,30.4,34.6,38.8,47.2,51.4,55.6,59.8,68.2,72.4,76.6,80.8,89.2,93.4,97.6,101.8,110.2,114.4,118.6,122.8,131.2,135.4,139.6,143.8,152.2,156.4,160.6,164.8]}},
           "y": {"field": "v", "type": "quantitative", "scale": {"domain": [-1.79, 1.29], "nice": false, "zero": false},
             "axis": {"orient": "right", "title": null, "labels": false, "ticks": false, "gridDash": [1.5, 4.5], "gridColor": "#8f8f8f", "gridWidth": 1.2,
               "values": [-1.6,-1.4,-1.2,-0.8,-0.6,-0.4,-0.2,0.2,0.4,0.6,0.8,1.2]}}
         }},
        {"data": {"name": "e"}, "mark": {"type": "bar", "color": "#6b6bd8", "size": 4, "clip": true},
         "encoding": {
           "x": {"field": "i", "type": "quantitative", "axis": {"orient": "bottom", "title": "对比模型路径损耗", "values": [1,22,43,64,85,106,127,148]}},
           "y": {"field": "v", "type": "quantitative", "axis": {"orient": "left", "title": "预测误差 (×10⁻⁷ s)", "titleX": -127, "values": [-1,0,1]}},
           "y2": {"datum": 0}
         }},
        {"data": {"values": [{"v": 0}]}, "mark": {"type": "rule", "color": "black", "strokeWidth": 1.5}, "encoding": {"y": {"field": "v", "type": "quantitative", "axis": null}}},
        {"data": {"values": [{"v": 0}]}, "mark": {"type": "rule", "color": "black", "strokeWidth": 4, "strokeDash": [20, 14]}, "encoding": {"y": {"field": "v", "type": "quantitative", "axis": null}}}
      ]
    },
    {
      "width": 672, "height": 304, "title": "(f)",
      "resolve": {"axis": {"x": "independent", "y": "independent"}},
      "layer": [
        {"data": {"name": "f"}, "mark": {"type": "bar", "opacity": 0, "size": 4, "clip": true},
         "encoding": {
           "x": {"field": "i", "type": "quantitative", "scale": {"domain": [1, 168], "nice": false, "zero": false},
             "axis": {"orient": "top", "title": null, "labels": false, "ticks": false, "gridDash": [1.5, 4.5], "gridColor": "#8f8f8f", "gridWidth": 1.2,
               "values": [5.2,9.4,13.6,17.8,26.2,30.4,34.6,38.8,47.2,51.4,55.6,59.8,68.2,72.4,76.6,80.8,89.2,93.4,97.6,101.8,110.2,114.4,118.6,122.8,131.2,135.4,139.6,143.8,152.2,156.4,160.6,164.8]}},
           "y": {"field": "v", "type": "quantitative", "scale": {"domain": [-5.58, 11.0], "nice": false, "zero": false},
             "axis": {"orient": "right", "title": null, "labels": false, "ticks": false, "gridDash": [1.5, 4.5], "gridColor": "#8f8f8f", "gridWidth": 1.2,
               "values": [-4,-3,-2,-1,1,2,3,4,6,7,8,9]}}
         }},
        {"data": {"name": "f"}, "mark": {"type": "bar", "color": "#6b6bd8", "size": 4, "clip": true},
         "encoding": {
           "x": {"field": "i", "type": "quantitative", "axis": {"orient": "bottom", "title": "对比模型路径损耗", "values": [1,22,43,64,85,106,127,148]}},
           "y": {"field": "v", "type": "quantitative", "axis": {"orient": "left", "title": "预测误差 (dB)", "titleX": -122, "values": [-5,0,5,10]}},
           "y2": {"datum": 0}
         }},
        {"data": {"values": [{"v": 0}]}, "mark": {"type": "rule", "color": "black", "strokeWidth": 1.5}, "encoding": {"y": {"field": "v", "type": "quantitative", "axis": null}}},
        {"data": {"values": [{"v": 0}]}, "mark": {"type": "rule", "color": "black", "strokeWidth": 4, "strokeDash": [20, 14]}, "encoding": {"y": {"field": "v", "type": "quantitative", "axis": null}}}
      ]
    }
  ]
}
